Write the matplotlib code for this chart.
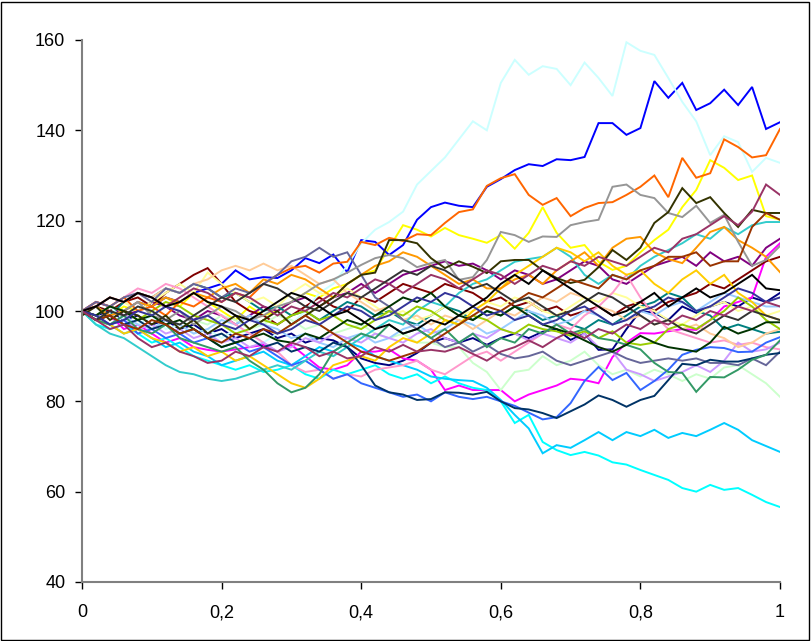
import matplotlib
matplotlib.use("Agg")
import matplotlib.pyplot as plt
from matplotlib.patches import Rectangle

# time grid (t = 0 .. 1 in 50 steps)
t = [i / 50 for i in range(51)]

# paths, one list per series (Excel default colour order)
navy = [100, 99, 100, 98, 99, 97, 98, 96, 97, 95,
        96, 94, 95, 96, 94, 95, 93, 94, 93.5, 92,
        89.5, 88.5, 88, 89, 90.7, 93, 94, 93, 94, 92.5,
        94, 95, 94, 95.4, 96, 93.6, 95, 91.4, 91.5, 96,
        100, 99.6, 98, 101, 99.6, 101, 102, 101, 103, 102,
        104]
magenta = [100, 98, 99, 96, 97, 95, 93, 94, 92, 91.4,
           91, 91.5, 92, 92.5, 91, 92.5, 90, 87.5, 87, 88,
           91, 91, 91.5, 89.5, 89, 87, 82.5, 83.5, 82.5, 82.5,
           82.5, 80, 81.5, 82.5, 83.5, 85, 84.7, 84, 89.8, 93,
           95.1, 95, 95.5, 96, 95.8, 98, 101, 102, 103, 112,
           115]
yellow = [100, 98, 99, 101, 100, 102, 103, 101, 104, 102,
          100, 98, 101, 99, 100, 102, 104, 103, 105, 106,
          108, 109, 114, 119, 118, 116.5, 118.4, 116.8, 116, 115.1,
          116.8, 113.8, 117.3, 123, 117.3, 114, 114.6, 110.9, 109.1, 110,
          113, 115.7, 118, 123, 126.8, 133.4, 131.7, 129, 130, 121,
          120.2]
cyan = [100, 97, 96, 97, 95, 93, 94, 92, 90, 89,
        88, 87, 88, 86.5, 87, 88, 86, 85, 87, 86,
        87, 88, 86, 85, 86, 84, 85.5, 84, 83, 82.5,
        80, 75.2, 77, 71, 69.2, 68.1, 68.8, 68, 66.5, 66,
        64.8, 63.7, 62.6, 60.8, 60, 61.5, 60.4, 60.8, 59.3, 57.7,
        56.6]
purple = [100, 102, 101, 99, 100, 102, 101, 99, 98, 100,
          99, 97, 99, 101, 100, 102, 103, 101, 103, 104,
          106, 104, 106, 108, 109, 110, 111, 110, 110.5, 109,
          107, 109, 108, 106, 107, 109, 111, 110, 107, 106,
          108, 110, 111, 112, 110, 113, 111, 112, 110, 114,
          116]
darkred = [100, 101, 100, 102, 103, 101, 104, 106, 108, 109.5,
           106, 102, 100, 99, 97, 99, 101, 103, 101, 100,
           103, 102, 104, 106, 105, 104, 106, 105, 104, 102,
           103, 101, 102, 100, 101, 99, 100, 101, 99, 101,
           102, 100, 102, 103, 104, 106, 105, 107, 109, 111,
           112]
teal = [100, 101, 99, 102, 104, 103, 105, 104, 106, 105,
        103, 104, 102, 100, 101, 99, 100, 98, 100, 102,
        101, 99, 100, 98, 97, 99, 101, 100, 98, 100,
        99, 101, 100, 98, 99, 97, 96, 98, 97, 99,
        101, 102, 104, 103, 100, 99, 96, 97, 96, 95,
        95.4]
blue = [100, 101, 99, 100, 102, 101, 103, 102, 104, 105,
        106, 109, 107, 107.5, 107.3, 109, 111.7, 110.6, 112.5, 108.6,
        115.7, 115.3, 112.4, 114.6, 120.2, 123, 124, 123.3, 123, 127.5,
        129.2, 131.2, 132.5, 132.1, 133.6, 133.4, 134.1, 141.6, 141.6, 139,
        140.5, 150.9, 147.2, 150.5, 144.5, 146, 149, 145.6, 149.6, 140.3,
        141.8]
skyblue = [100, 98, 97, 95, 96, 94, 92, 93, 91, 90,
           88, 89, 90, 91, 89, 88, 90, 92, 91, 93,
           92, 90, 89, 88, 87, 85.5, 85, 84.7, 84.5, 83,
           80.3, 77, 74, 68.5, 70.3, 69.7, 71.4, 73.2, 71.4, 73.2,
           72.3, 73.7, 71.9, 73, 72.3, 73.7, 75.2, 73.7, 71.4, 70.1,
           68.8]
lightcyan = [100, 99, 101, 98, 97, 99, 96, 97, 95, 96,
             94, 96, 95, 93, 95, 97, 100, 104, 106, 110,
             115, 118, 119.7, 122, 128, 131, 134, 138, 142, 140,
             150.5, 155.6, 152.3, 154.2, 153.6, 150, 155, 151.6, 147.6, 159.5,
             157.6, 156.7, 151.6, 146.3, 142, 134.5, 138.7, 137.4, 130.8, 133.9,
             132.8]
lightgreen = [100, 101, 99, 100, 98, 99, 101, 100, 98, 97,
              99, 98, 96, 97, 99, 98, 96, 97, 95, 96,
              97, 95, 94, 95, 93, 93, 92, 92, 88.5, 86.5,
              82.5, 86.5, 87, 90, 88, 89, 91, 88, 86, 87,
              85.5, 87, 86, 84.5, 86, 85, 87.5, 88, 86, 84,
              81]
lightyellow = [100, 101, 103, 102, 100, 102, 104, 106, 104, 108.5,
               106, 104, 102, 103, 101, 104, 106, 104, 103, 105,
               103, 101, 99, 100, 98, 99, 101, 99, 100, 102,
               101, 103, 102, 100, 99, 101, 103, 102, 104, 103,
               101, 100, 98, 97, 99, 101, 102, 100, 101, 99,
               100]
lightblue = [100, 98, 97, 99, 97, 96, 98, 97, 95, 96,
             98, 97, 99, 97, 96, 94, 95, 93, 92, 94,
             95, 93, 94, 96, 97, 95, 96, 98, 97, 95,
             96, 98, 100, 99, 97, 98, 100, 99, 97, 98,
             100, 99, 101, 102, 100, 102, 104, 103, 102, 101,
             101]
pink = [100, 102, 101, 103, 105, 104, 106, 105, 103, 101,
        99, 97, 95, 93, 91, 88, 86.5, 87, 85, 86,
        85.5, 87, 87.5, 88, 89, 87, 86, 88, 90, 91,
        89, 91, 93, 95, 97, 96, 99, 101, 104, 108,
        103, 99, 96, 95, 94, 93, 93.5, 92.5, 93, 92,
        91.5]
lavender = [100, 99, 97, 98, 96, 97, 95, 96, 94, 95,
            93, 94, 92, 93, 91, 92, 94, 93, 95, 94,
            93, 95, 94, 93, 95, 96, 94, 93, 95, 94,
            96, 95, 93.5, 95, 94, 93, 95, 92, 91, 87,
            86, 84.5, 85.5, 86.5, 88, 86.5, 89, 93, 91, 91.5,
            93]
peach = [100, 101, 103, 102, 104, 103, 105, 104, 106, 107,
         109, 110, 109, 110.5, 109, 110, 108, 106, 107, 104,
         102, 100, 101, 98, 99, 97, 99, 98, 96, 98,
         100, 99, 101, 103, 102, 104, 103, 101, 100, 98,
         99, 97, 98, 96, 97, 95, 94, 92, 93, 95,
         96]
royal = [100, 99, 97, 98, 95, 96, 94, 95, 93, 94,
         92, 93, 91, 92, 90, 88, 89, 87, 85, 86,
         84, 83, 82, 81, 81.5, 80, 82, 81, 80.5, 81,
         80, 79, 77.5, 76, 76.5, 79.6, 84.5, 87.6, 84.7, 86.3,
         82.5, 84.5, 87, 90.3, 91.4, 92, 91.8, 90.9, 91, 93,
         94.2]
turquoise = [100, 97, 95, 94, 92, 90, 88, 86.5, 86, 85,
             84.5, 85, 86, 87, 88, 87, 89, 91, 90, 92,
             94, 96, 98, 97, 100, 102, 101, 104, 106, 107,
             109, 110.9, 111.5, 112, 114, 112, 108, 106, 108, 107,
             110, 112, 113.5, 115, 117, 116, 118.6, 117, 119, 119.7,
             119.7]
yellowgreen = [100, 99, 101, 100, 98, 100, 102, 101, 99, 98,
               97, 95, 96, 98, 97, 99, 100, 98, 99, 97,
               96, 98, 100, 99, 101, 100, 98, 97, 99, 98,
               96, 95, 97, 96, 95.5, 94.5, 95.5, 94, 95.5, 93,
               92.5, 93, 96, 97, 96, 98, 100, 103, 101, 98,
               96]
gold = [100, 98, 97, 95, 96, 94, 93, 91, 92, 90,
        91, 89, 90, 88, 86, 84, 83, 85, 88, 89,
        90, 89, 92, 94, 93, 95, 98, 97, 100, 102,
        105, 108, 110, 112, 114, 113, 111, 113, 110, 108,
        109, 106, 104, 107, 109, 106, 108, 104, 102, 99,
        98]
orange = [100, 101, 99, 100, 102, 101, 103, 102, 104, 103,
          105, 106, 104, 107, 106, 108, 107, 105, 103, 106,
          108, 110, 111, 113, 112, 110, 108, 106, 107, 105,
          105, 107, 108, 106, 109, 111, 113, 110, 114, 116,
          116.4, 113, 111.5, 110.6, 114, 117.5, 118.6, 115.7, 114, 112,
          108.6]
darkorange = [100, 102, 101, 103, 100, 101, 99, 102, 101, 103,
              102, 104, 103, 106, 108, 109.5, 110, 108.5, 110.5, 110.9,
              115.3, 114.6, 116.2, 115.5, 117, 116.8, 119.5, 121.9, 122.5, 127.7,
              129.4, 130.3, 125.7, 123.5, 125, 121, 122.8, 123.9, 124.1, 125.7,
              127.5, 130, 125.2, 133.9, 129.5, 130.5, 138, 136.3, 134, 134.5,
              140.3]
slate = [100, 102, 101, 103, 104, 102, 105, 104, 106, 105,
         103, 105, 104, 106, 108, 111, 112, 114, 112, 113,
         108, 103, 101, 98, 96, 94, 92, 93, 91, 92.5,
         90.5, 89.5, 90, 91, 89, 88, 89, 90, 91, 89.5,
         88.5, 89, 89.5, 89, 89.5, 88.5, 88.5, 88, 89.5, 88,
         91]
gray = [100, 99, 101, 100, 102, 99, 98, 100, 97, 99,
        101, 100, 98, 99, 101, 102, 104, 106, 107, 108.5,
        110.2, 111.7, 112.4, 111.7, 109.7, 110.6, 111.3, 106.9, 107.5, 111.3,
        117.5, 116.8, 115.3, 116.5, 116.4, 119, 119.7, 120.2, 127.5, 128,
        125.7, 125, 121.7, 120.8, 123.3, 119.5, 121.3, 115.3, 110, 111.3,
        114.4]
darknavy = [100, 98, 99, 97, 98, 96, 97, 95, 96, 94,
            95, 93, 94, 92, 93, 91, 92, 91, 93, 92,
            88, 83.5, 82, 81.5, 80.3, 80.5, 82, 81.9, 81.5, 82.1,
            80, 78.5, 78.2, 77.4, 76.3, 77.8, 79.3, 81.3, 80.3, 78.8,
            80.3, 81.2, 84.7, 88.3, 88, 89.2, 88.8, 88.8, 89.5, 90.3,
            90.7]
seagreen = [100, 98, 97, 99, 96, 95, 97, 94, 93, 92,
            91, 92, 89, 87, 84, 82, 83, 86, 91, 93,
            95, 94, 97, 95, 96, 94, 96, 93, 95, 92,
            94, 93, 96, 95, 97, 95, 96, 94, 93.5, 92.5,
            91.5, 88.5, 86.5, 86.3, 82.1, 85.4, 85.3, 87, 89.2, 90.3,
            93.5]
darkgreen = [100, 99, 101, 100, 98, 99, 97, 98, 96, 94,
             92, 93, 94, 95, 93.5, 93, 95, 94, 96, 98,
             97, 99, 101, 103, 102, 104, 101, 99, 98, 100,
             99, 101, 99, 97, 96, 95, 93.5, 92, 91, 92.5,
             94.5, 93, 92, 91.5, 91, 93, 96.5, 95, 96, 97.5,
             97.5]
olive = [99, 101, 98, 100, 99, 97, 99, 96, 98, 95,
         97, 99, 96, 98, 100, 97, 99, 101, 103, 106,
         108, 108.5, 115.7, 115.7, 115, 111.7, 109.5, 111, 109.8, 108.4,
         111, 111.3, 111.3, 109, 107.3, 106.2, 106.9, 109.7, 113.5, 111.3,
         114, 119.5, 121.9, 127.2, 123.9, 125.2, 121.7, 118.6, 122.4, 121.7,
         121.7]
brown = [100, 98, 99, 97, 96, 98, 97, 95, 96, 94,
         93, 95, 94, 96, 95, 97, 99, 97, 95, 93,
         91, 90, 89, 90, 91, 93, 95, 97, 99, 101,
         100, 102, 104, 103, 105, 107, 106, 105, 108, 107,
         109, 110, 112, 112, 113, 110, 111, 111, 118.6, 121.7,
         120.2]
plum = [100, 101, 103, 102, 104, 103, 101, 103, 105, 104,
        102, 104, 103, 101, 99, 101, 100, 102, 104, 103,
        105, 107, 106, 104, 106, 108, 107, 105, 107, 109,
        108, 106, 108, 110, 109, 111, 110, 112, 111, 110,
        112, 114, 113, 116, 117, 119, 121, 119, 122, 128,
        125.7]
indigo = [100, 99, 97, 98, 100, 99, 101, 100, 98, 99,
          97, 96, 98, 97, 95, 96, 98, 97, 99, 101,
          100, 98, 99, 101, 103, 102, 104, 103, 101, 99,
          100, 98, 99, 97, 98, 100, 101, 99, 97, 98,
          100, 101, 103, 102, 100, 101, 103, 105, 104, 102,
          103]
darkgray = [100, 98, 100, 99, 101, 100, 98, 97, 99, 101,
            103, 102, 104, 106, 105, 103, 101, 100, 102, 104,
            103, 105, 107, 109, 108, 110, 109, 107, 105, 106,
            104, 102, 103, 101, 99, 100, 102, 104, 103, 101,
            99, 97, 98, 96, 95, 97, 99, 98, 100, 99,
            98]
black = [100, 101, 103, 102, 104, 103, 101, 102, 104, 102,
         101, 99, 98, 100, 102, 104, 103, 101, 99, 100,
         98, 96, 97, 95, 96, 98, 97, 99, 101, 103,
         106, 108, 106, 109, 107, 105, 103, 101, 99, 100,
         102, 104, 101, 103, 105, 103, 104, 106, 108, 105,
         104.6]
plum2 = [100, 98, 96, 97, 94, 92, 93, 91, 90, 88.5,
         89, 91, 90, 92, 91, 93, 92, 90, 91, 89.5,
         90, 92, 91, 92.5, 91, 91.4, 91, 92, 90.5, 89,
         91, 92, 93.5, 92, 94, 95.5, 94, 96, 95, 97,
         96, 98, 97, 99, 98, 100, 99, 101, 100, 102,
         101]

series = [
    (navy, '#000080'), (magenta, '#ff00ff'), (yellow, '#ffff00'),
    (cyan, '#00ffff'), (purple, '#800080'), (darkred, '#800000'),
    (teal, '#008080'), (blue, '#0000ff'), (skyblue, '#00ccff'),
    (lightcyan, '#ccffff'), (lightgreen, '#ccffcc'), (lightyellow, '#ffff99'),
    (lightblue, '#99ccff'), (pink, '#ff99cc'), (lavender, '#cc99ff'),
    (peach, '#ffcc99'), (royal, '#3366ff'), (turquoise, '#33cccc'),
    (yellowgreen, '#99cc00'), (gold, '#ffcc00'), (orange, '#ff9900'),
    (darkorange, '#ff6600'), (slate, '#666699'), (gray, '#969696'),
    (darknavy, '#003366'), (seagreen, '#339966'), (darkgreen, '#003300'),
    (olive, '#333300'), (brown, '#993300'), (plum, '#993366'),
    (indigo, '#333399'), (darkgray, '#333333'), (black, '#000000'),
    (plum2, '#993366'),
]

fig = plt.figure(figsize=(8.11, 6.41), dpi=100)
ax = fig.add_axes([82 / 811, 59 / 641, 698 / 811, 542 / 641])

for values, color in series:
    ax.plot(t, values, color=color, linewidth=1.4, solid_joinstyle='miter')

ax.set_xlim(0, 1)
ax.set_ylim(40, 160)
ax.set_xticks([0, 0.2, 0.4, 0.6, 0.8, 1])
ax.set_xticklabels(['0', '0,2', '0,4', '0,6', '0,8', '1'])
ax.set_yticks([40, 60, 80, 100, 120, 140, 160])

for side in ['top', 'right']:
    ax.spines[side].set_visible(False)
for side in ['left', 'bottom']:
    ax.spines[side].set_color('#808080')
    ax.spines[side].set_linewidth(1.5)

ax.tick_params(direction='out', length=5, width=1, color='black',
               labelsize=13)
ax.tick_params(axis='y', pad=7)
ax.tick_params(axis='x', pad=11)
for lbl in ax.get_xticklabels() + ax.get_yticklabels():
    lbl.set_fontfamily('Liberation Sans')

# outer chart border
fig.patches.append(Rectangle((1 / 811, 1 / 641), 808 / 811, 638 / 641,
                             transform=fig.transFigure, fill=False,
                             edgecolor='black', linewidth=1))

fig.savefig('out.png', dpi=100)
